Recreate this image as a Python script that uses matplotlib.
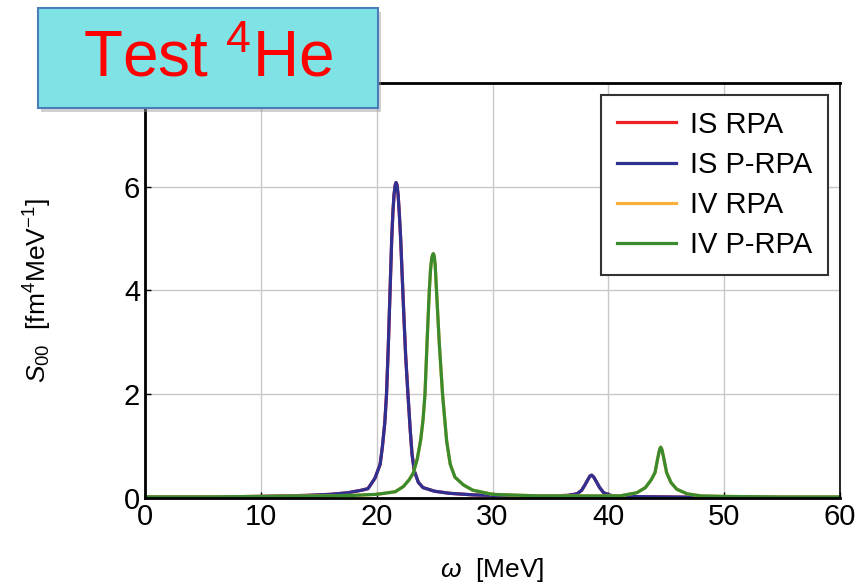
import matplotlib
matplotlib.use("Agg")
import matplotlib.pyplot as plt
from matplotlib.patches import FancyBboxPatch

plt.rcParams['font.family'] = ['Liberation Sans', 'DejaVu Sans']
plt.rcParams['mathtext.fontset'] = 'custom'
plt.rcParams['mathtext.rm'] = 'Liberation Sans'
plt.rcParams['mathtext.it'] = 'Liberation Sans:italic'

# isoscalar response (RPA and P-RPA coincide)
is_omega = [0, 5, 10, 14, 16, 17.5, 18.7, 19.25, 19.85, 20.3, 20.5, 20.7, 20.85, 21.0,
            21.15, 21.3, 21.4, 21.5, 21.6, 21.67, 21.75, 21.85, 21.95, 22.07, 22.2,
            22.35, 22.5, 22.7, 22.9, 23.05, 23.25, 23.6, 24.0, 25.0, 26.3, 28.3, 30, 33,
            35, 36.5, 37.3, 37.7, 37.95, 38.2, 38.4, 38.56, 38.75, 39.0, 39.25, 39.6,
            40.2, 41, 45, 50, 60]
is_rpa = [0.02, 0.02, 0.03, 0.05, 0.07, 0.1, 0.15, 0.18, 0.38, 0.65, 1.0, 1.45, 2.0, 2.9,
          3.95, 5.0, 5.5, 5.85, 6.03, 6.08, 6.04, 5.85, 5.5, 5.0, 4.3,
          3.5, 2.75, 2.0, 1.3, 0.85, 0.52, 0.3, 0.2, 0.13, 0.09, 0.06, 0.05, 0.04,
          0.04, 0.05, 0.08, 0.15, 0.24, 0.34, 0.42, 0.44, 0.4, 0.3, 0.2, 0.1,
          0.05, 0.03, 0.02, 0.01, 0.01]
is_prpa = list(is_rpa)

# isovector response
iv_omega = [0, 5, 10, 15, 18, 20, 21.6, 22.3, 22.8, 23.16, 23.5, 23.8, 24.0, 24.17,
            24.35, 24.54, 24.65, 24.75, 24.83, 24.89, 24.96, 25.05, 25.17, 25.4, 25.69,
            26.04, 26.35, 26.76, 27.5, 28.3, 30, 34, 37, 41, 42.45, 43.2, 43.7, 44.03,
            44.25, 44.42, 44.52, 44.63, 44.8, 45.03, 45.4, 45.9, 46.8, 48, 50, 55, 60]
iv_rpa = [0.02, 0.02, 0.03, 0.04, 0.05, 0.07, 0.12, 0.22, 0.35, 0.48, 0.75, 1.12, 1.5, 2.0,
          3.0, 3.98, 4.4, 4.62, 4.69, 4.71, 4.67, 4.5, 3.98, 3.0, 1.99,
          1.1, 0.65, 0.4, 0.25, 0.15, 0.07, 0.04, 0.04, 0.04, 0.1, 0.2, 0.35, 0.49,
          0.75, 0.93, 0.98, 0.93, 0.75, 0.49, 0.3, 0.17, 0.08, 0.04, 0.03, 0.02, 0.02]
iv_prpa = list(iv_rpa)

x_ticks = [0, 10, 20, 30, 40, 50, 60]
y_ticks = [0, 2, 4, 6]

fig = plt.figure(figsize=(8.59, 5.86), dpi=100)
ax = fig.add_axes([0.1688, 0.1502, 0.8091, 0.7082])

lw = 2.3
ax.plot(is_omega, is_rpa, color='#ee2024', lw=lw, label='IS RPA')
ax.plot(is_omega, is_prpa, color='#2e3192', lw=lw, label='IS P-RPA')
ax.plot(iv_omega, iv_rpa, color='#fbb03b', lw=lw, label='IV RPA')
ax.plot(iv_omega, iv_prpa, color='#3a8a2e', lw=lw, label='IV P-RPA')

ax.set_xlim(0, 60)
ax.set_ylim(0, 8)
ax.set_xticks(x_ticks)
ax.set_yticks(y_ticks)
ax.grid(True, color='#c8c8c8', lw=1.0)
ax.set_axisbelow(True)
ax.tick_params(direction='in', labelsize=21, length=4, width=1)
for sp in ax.spines.values():
    sp.set_color('black')
    sp.set_linewidth(1.2)
ax.spines['left'].set_linewidth(2)
ax.spines['bottom'].set_linewidth(2)
ax.spines['top'].set_linewidth(2)

ax.set_xlabel(r'$\omega$  [MeV]', fontsize=19, labelpad=18)
ax.set_ylabel(r'$\mathit{S}_{00}$  [fm$^4$MeV$^{-1}$]', fontsize=19, labelpad=50)

leg = ax.legend(loc='upper right', fontsize=21, frameon=True, fancybox=False,
                edgecolor='#333333', framealpha=1, handlelength=2.0,
                borderaxespad=0.4, labelspacing=0.42, handletextpad=0.5,
                borderpad=0.55)
leg.get_frame().set_linewidth(1.5)

# title box with shadow
shadow = FancyBboxPatch((0.0482, 0.8097), 0.3958, 0.1706, boxstyle='square,pad=0',
                        transform=fig.transFigure, facecolor='#999999', alpha=0.45,
                        edgecolor='none', zorder=5)
box = FancyBboxPatch((0.0442, 0.8157), 0.3958, 0.1706, boxstyle='square,pad=0',
                     transform=fig.transFigure, facecolor='#7fe3e5',
                     edgecolor='#4a7ebb', lw=1.5, zorder=6)
fig.patches.extend([shadow, box])
fig.text(0.2421, 0.898, r'Test $^4$He', color='#ff0000', fontsize=46,
         family='Liberation Sans', ha='center', va='center', zorder=7)

fig.savefig('out.png', dpi=100)
